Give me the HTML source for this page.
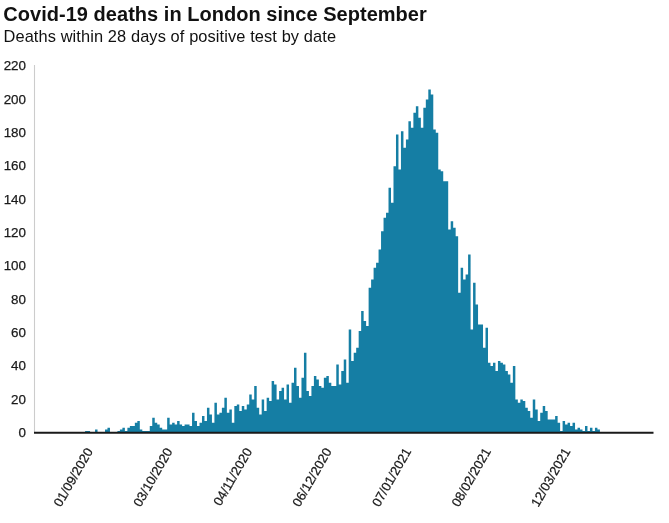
<!DOCTYPE html>
<html><head><meta charset="utf-8">
<style>
html,body{margin:0;padding:0;background:#fff;}
body{width:669px;height:523px;overflow:hidden;font-family:"Liberation Sans",sans-serif;}
svg{display:block;}
text{filter:grayscale(1);}
.title{font:bold 20px "Liberation Sans",sans-serif;fill:#111;letter-spacing:0.03px;}
.sub{font:16.4px "Liberation Sans",sans-serif;fill:#111;letter-spacing:0.1px;}
.yl{font:13.4px "Liberation Sans",sans-serif;fill:#1a1a1a;stroke:#1a1a1a;stroke-width:0.25px;}
.xl{font:13px "Liberation Sans",sans-serif;fill:#1a1a1a;stroke:#1a1a1a;stroke-width:0.25px;}
</style></head><body>
<svg width="669" height="523" viewBox="0 0 669 523">
<rect width="669" height="523" fill="#ffffff"/>
<text x="3.3" y="21" class="title">Covid-19 deaths in London since September</text>
<text x="3.5" y="42" class="sub">Deaths within 28 days of positive test by date</text>
<line x1="34.5" y1="65" x2="34.5" y2="433" stroke="#cccccc" stroke-width="1.1"/>
<text x="26" y="436.85" text-anchor="end" class="yl">0</text>
<text x="26" y="403.52" text-anchor="end" class="yl">20</text>
<text x="26" y="370.20" text-anchor="end" class="yl">40</text>
<text x="26" y="336.87" text-anchor="end" class="yl">60</text>
<text x="26" y="303.55" text-anchor="end" class="yl">80</text>
<text x="26" y="270.22" text-anchor="end" class="yl">100</text>
<text x="26" y="236.89" text-anchor="end" class="yl">120</text>
<text x="26" y="203.57" text-anchor="end" class="yl">140</text>
<text x="26" y="170.24" text-anchor="end" class="yl">160</text>
<text x="26" y="136.92" text-anchor="end" class="yl">180</text>
<text x="26" y="103.59" text-anchor="end" class="yl">200</text>
<text x="26" y="70.26" text-anchor="end" class="yl">220</text>

<path d="M85.10,432.75L85.10,431.08L87.59,431.08L87.59,431.08L90.07,431.08L90.07,432.75L92.56,432.75L92.56,432.75L95.05,432.75L95.05,429.42L97.53,429.42L97.53,432.75L100.02,432.75L100.02,432.75L102.51,432.75L102.51,432.75L105.00,432.75L105.00,429.42L107.48,429.42L107.48,427.75L109.97,427.75L109.97,432.75L112.46,432.75L112.46,432.75L114.94,432.75L114.94,432.75L117.43,432.75L117.43,431.08L119.92,431.08L119.92,429.42L122.41,429.42L122.41,427.75L124.89,427.75L124.89,431.08L127.38,431.08L127.38,427.75L129.87,427.75L129.87,426.08L132.35,426.08L132.35,426.08L134.84,426.08L134.84,422.75L137.33,422.75L137.33,421.09L139.81,421.09L139.81,429.42L142.30,429.42L142.30,431.08L144.79,431.08L144.79,431.08L147.28,431.08L147.28,431.08L149.76,431.08L149.76,426.08L152.25,426.08L152.25,417.75L154.74,417.75L154.74,422.75L157.22,422.75L157.22,424.42L159.71,424.42L159.71,427.75L162.20,427.75L162.20,429.42L164.68,429.42L164.68,429.42L167.17,429.42L167.17,417.75L169.66,417.75L169.66,424.42L172.14,424.42L172.14,422.75L174.63,422.75L174.63,424.42L177.12,424.42L177.12,421.09L179.61,421.09L179.61,424.42L182.09,424.42L182.09,426.08L184.58,426.08L184.58,424.42L187.07,424.42L187.07,424.42L189.55,424.42L189.55,426.08L192.04,426.08L192.04,412.75L194.53,412.75L194.53,421.09L197.01,421.09L197.01,426.08L199.50,426.08L199.50,422.75L201.99,422.75L201.99,416.09L204.48,416.09L204.48,421.09L206.96,421.09L206.96,407.76L209.45,407.76L209.45,414.42L211.94,414.42L211.94,422.75L214.42,422.75L214.42,402.76L216.91,402.76L216.91,414.42L219.40,414.42L219.40,412.75L221.88,412.75L221.88,407.76L224.37,407.76L224.37,397.76L226.86,397.76L226.86,412.75L229.35,412.75L229.35,409.42L231.83,409.42L231.83,422.75L234.32,422.75L234.32,406.09L236.81,406.09L236.81,404.42L239.29,404.42L239.29,411.09L241.78,411.09L241.78,406.09L244.27,406.09L244.27,409.42L246.75,409.42L246.75,404.42L249.24,404.42L249.24,394.43L251.73,394.43L251.73,399.42L254.22,399.42L254.22,386.09L256.70,386.09L256.70,407.76L259.19,407.76L259.19,414.42L261.68,414.42L261.68,399.42L264.16,399.42L264.16,411.09L266.65,411.09L266.65,397.76L269.14,397.76L269.14,401.09L271.62,401.09L271.62,381.09L274.11,381.09L274.11,384.43L276.60,384.43L276.60,399.42L279.09,399.42L279.09,391.09L281.57,391.09L281.57,387.76L284.06,387.76L284.06,399.42L286.55,399.42L286.55,384.43L289.03,384.43L289.03,402.76L291.52,402.76L291.52,382.76L294.01,382.76L294.01,367.76L296.50,367.76L296.50,386.09L298.98,386.09L298.98,397.76L301.47,397.76L301.47,377.76L303.96,377.76L303.96,352.77L306.44,352.77L306.44,391.09L308.93,391.09L308.93,396.09L311.42,396.09L311.42,386.09L313.90,386.09L313.90,376.10L316.39,376.10L316.39,379.43L318.88,379.43L318.88,386.09L321.37,386.09L321.37,387.76L323.85,387.76L323.85,377.76L326.34,377.76L326.34,376.10L328.83,376.10L328.83,382.76L331.31,382.76L331.31,386.09L333.80,386.09L333.80,386.09L336.29,386.09L336.29,364.43L338.77,364.43L338.77,384.43L341.26,384.43L341.26,371.10L343.75,371.10L343.75,359.43L346.24,359.43L346.24,382.76L348.72,382.76L348.72,329.44L351.21,329.44L351.21,361.10L353.70,361.10L353.70,352.77L356.18,352.77L356.18,347.77L358.67,347.77L358.67,331.11L361.16,331.11L361.16,311.11L363.64,311.11L363.64,321.11L366.13,321.11L366.13,326.11L368.62,326.11L368.62,287.78L371.11,287.78L371.11,279.45L373.59,279.45L373.59,267.79L376.08,267.79L376.08,262.79L378.57,262.79L378.57,249.46L381.05,249.46L381.05,231.13L383.54,231.13L383.54,217.80L386.03,217.80L386.03,212.80L388.51,212.80L388.51,187.80L391.00,187.80L391.00,202.80L393.49,202.80L393.49,166.14L395.98,166.14L395.98,134.48L398.46,134.48L398.46,169.47L400.95,169.47L400.95,131.15L403.44,131.15L403.44,147.81L405.92,147.81L405.92,139.48L408.41,139.48L408.41,121.15L410.90,121.15L410.90,127.82L413.38,127.82L413.38,112.82L415.87,112.82L415.87,106.16L418.36,106.16L418.36,117.82L420.85,117.82L420.85,127.82L423.33,127.82L423.33,107.82L425.82,107.82L425.82,99.49L428.31,99.49L428.31,89.49L430.79,89.49L430.79,94.49L433.28,94.49L433.28,129.48L435.77,129.48L435.77,132.82L438.25,132.82L438.25,169.47L440.74,169.47L440.74,171.14L443.23,171.14L443.23,181.14L445.72,181.14L445.72,181.14L448.20,181.14L448.20,229.46L450.69,229.46L450.69,221.13L453.18,221.13L453.18,227.80L455.66,227.80L455.66,236.13L458.15,236.13L458.15,292.78L460.64,292.78L460.64,267.79L463.12,267.79L463.12,279.45L465.61,279.45L465.61,274.45L468.10,274.45L468.10,254.46L470.59,254.46L470.59,329.44L473.07,329.44L473.07,282.78L475.56,282.78L475.56,304.44L478.05,304.44L478.05,324.44L480.53,324.44L480.53,324.44L483.02,324.44L483.02,347.77L485.51,347.77L485.51,327.77L487.99,327.77L487.99,362.77L490.48,362.77L490.48,366.10L492.97,366.10L492.97,362.77L495.46,362.77L495.46,371.10L497.94,371.10L497.94,361.10L500.43,361.10L500.43,362.77L502.92,362.77L502.92,364.43L505.40,364.43L505.40,371.10L507.89,371.10L507.89,374.43L510.38,374.43L510.38,382.76L512.86,382.76L512.86,366.10L515.35,366.10L515.35,399.42L517.84,399.42L517.84,402.76L520.33,402.76L520.33,399.42L522.81,399.42L522.81,401.09L525.30,401.09L525.30,407.76L527.79,407.76L527.79,411.09L530.27,411.09L530.27,417.75L532.76,417.75L532.76,399.42L535.25,399.42L535.25,409.42L537.73,409.42L537.73,421.09L540.22,421.09L540.22,412.75L542.71,412.75L542.71,406.09L545.20,406.09L545.20,411.09L547.68,411.09L547.68,419.42L550.17,419.42L550.17,419.42L552.66,419.42L552.66,419.42L555.14,419.42L555.14,416.09L557.63,416.09L557.63,422.75L560.12,422.75L560.12,431.08L562.60,431.08L562.60,421.09L565.09,421.09L565.09,424.42L567.58,424.42L567.58,422.75L570.07,422.75L570.07,426.08L572.55,426.08L572.55,422.75L575.04,422.75L575.04,429.42L577.53,429.42L577.53,427.75L580.01,427.75L580.01,429.42L582.50,429.42L582.50,431.08L584.99,431.08L584.99,426.08L587.47,426.08L587.47,431.08L589.96,431.08L589.96,427.75L592.45,427.75L592.45,431.08L594.94,431.08L594.94,427.75L597.42,427.75L597.42,429.42L599.91,429.42L599.91,432.75Z" fill="#157EA4"/>
<rect x="34" y="431.75" width="619.5" height="2" fill="#1a1a1a"/>
<text class="xl" text-anchor="end" transform="translate(93.34,451.30) rotate(-60)">01/09/2020</text>
<text class="xl" text-anchor="end" transform="translate(172.93,451.30) rotate(-60)">03/10/2020</text>
<text class="xl" text-anchor="end" transform="translate(252.51,451.30) rotate(-60)">04/11/2020</text>
<text class="xl" text-anchor="end" transform="translate(332.10,451.30) rotate(-60)">06/12/2020</text>
<text class="xl" text-anchor="end" transform="translate(411.68,451.30) rotate(-60)">07/01/2021</text>
<text class="xl" text-anchor="end" transform="translate(491.26,451.30) rotate(-60)">08/02/2021</text>
<text class="xl" text-anchor="end" transform="translate(570.85,451.30) rotate(-60)">12/03/2021</text>

</svg>
</body></html>
